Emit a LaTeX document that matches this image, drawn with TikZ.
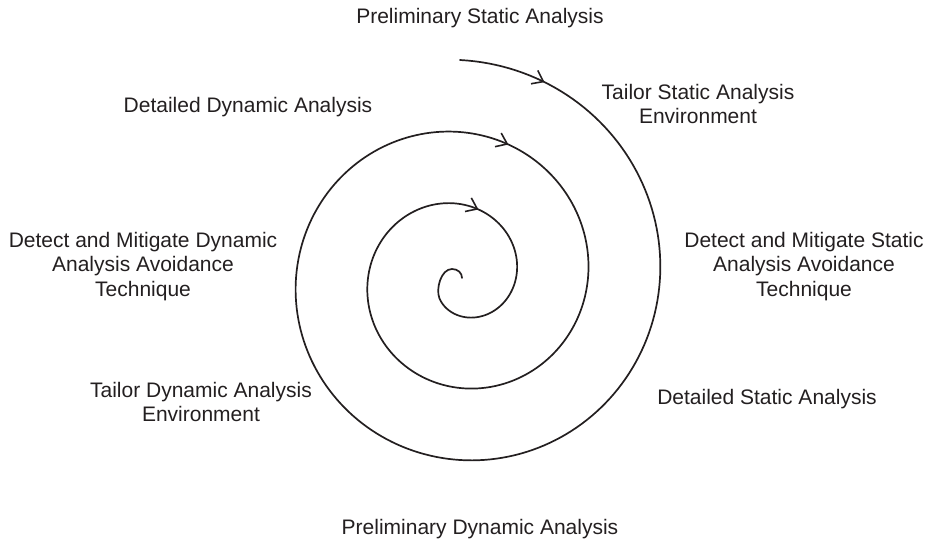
\documentclass[tikz,border=0pt]{standalone}
\usepackage{fontspec}
\setmainfont{Liberation Sans}
\usetikzlibrary{arrows.meta,decorations.markings}
\definecolor{ink}{RGB}{35,31,32}
\tikzset{
  lbl/.style={inner sep=0pt, align=center, text=ink,
    font=\fontsize{21}{24.5}\selectfont},
  spiralline/.style={draw=ink, line width=1.7pt, line join=round, line cap=round},
}
\newcommand{\spiraltip}{\arrow{Straight Barb[length=10pt,width=15pt,line width=1.6pt]}}
\begin{document}
\begin{tikzpicture}[x=1pt,y=-1pt]
\useasboundingbox (0,0) rectangle (926,544);
% labels
\node[lbl,anchor=base] (pstat) at (480,23) {Preliminary Static Analysis};
\node[lbl,anchor=base] (ddyn) at (248,112) {Detailed Dynamic Analysis};
\node[lbl,anchor=north] (tstat) at (698,84) {Tailor Static Analysis\\Environment};
\node[lbl,anchor=north] (mdyn) at (143,232) {Detect and Mitigate Dynamic\\Analysis Avoidance\\Technique};
\node[lbl,anchor=north] (mstat) at (804,232) {Detect and Mitigate Static\\Analysis Avoidance\\Technique};
\node[lbl,anchor=north] (tdyn) at (201,382) {Tailor Dynamic Analysis\\Environment};
\node[lbl,anchor=base] (dstat) at (767,404) {Detailed Static Analysis};
\node[lbl,anchor=base] (pdyn) at (480,534) {Preliminary Dynamic Analysis};
% spiral
\coordinate (hooktop) at (452,269);
\coordinate (hookend) at (462,278);
\draw[spiralline,
  decoration={markings,
    mark=at position 88pt with {\spiraltip},
    mark=at position 1196pt with {\spiraltip},
    mark=at position 1860pt with {\spiraltip}},
  postaction={decorate}]
  plot[domain=0:945, samples=500, variable=\t]
    ({460+(218-0.2*\t)*sin(\t)}, {278-(218-0.2*\t)*cos(\t)})
  .. controls (435.5,289) and (441,269) .. (hooktop)
  .. controls (458,269) and (462,273) .. (hookend);
\end{tikzpicture}
\end{document}
